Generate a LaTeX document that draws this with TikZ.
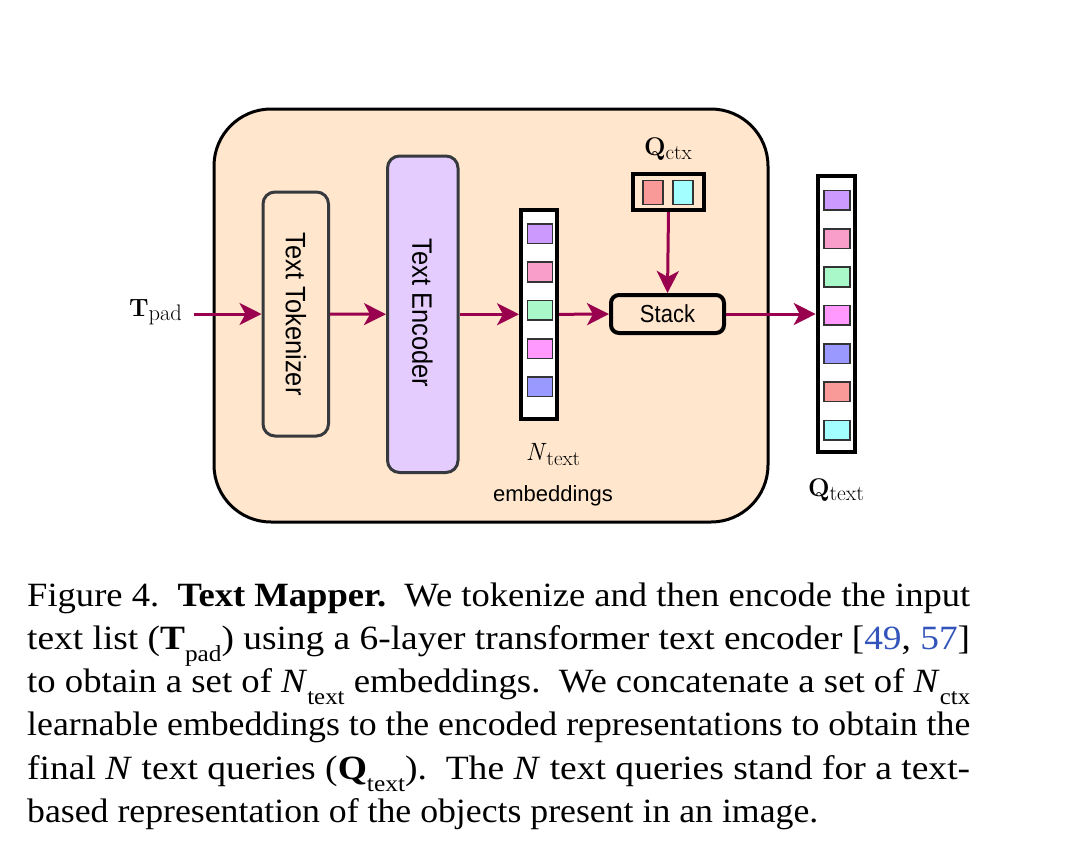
\RequirePackage{fix-cm}
\documentclass[tikz,border=0pt]{standalone}
\usepackage{fontspec}
\usepackage{graphicx}
\usetikzlibrary{arrows.meta}
\newfontfamily\capfont{Liberation Serif}
\newfontfamily\lsans{Liberation Sans}
\newfontfamily\lmr{Latin Modern Roman}
\definecolor{peach}{HTML}{FFE6CC}
\definecolor{lilac}{HTML}{E5CCFF}
\definecolor{darkstroke}{HTML}{36393D}
\definecolor{arrowc}{HTML}{99004D}
\definecolor{sqpurple}{HTML}{CC99FF}
\definecolor{sqpink}{HTML}{F99ECB}
\definecolor{sqgreen}{HTML}{A8F8CA}
\definecolor{sqmagenta}{HTML}{FF99FF}
\definecolor{sqblue}{HTML}{9999FF}
\definecolor{sqsalmon}{HTML}{F99A98}
\definecolor{sqcyan}{HTML}{A3FFFF}
\definecolor{refblue}{HTML}{3355BB}
\newcommand\capsub[1]{\raisebox{-0.36em}{\fontsize{23}{23}\selectfont #1}}
\newcommand\capline[2]{\resizebox{#1}{\height}{\capfont\fontsize{34}{34}\selectfont #2}}
% \mlabel{main size}{main text}{sub size}{sub text}{drop}
\newcommand\mlabel[5]{{\lmr\fontsize{#1}{#1}\selectfont #2}\raisebox{-#5}{\lmr\fontsize{#3}{#3}\selectfont #4}}
\tikzset{
  flow/.style={draw=arrowc, line width=3pt, -{Stealth[length=22pt,width=22pt,inset=6pt]}},
  framebox/.style={draw=black, fill=peach, line width=3pt, rounded corners=57pt, inner sep=0pt},
  procbox/.style={draw=darkstroke, line width=3pt, rounded corners=12pt, inner sep=0pt},
  colbox/.style={draw=black, fill=white, line width=4pt, inner sep=0pt},
  sq/.style={draw=black!80, line width=1.6pt, inner sep=0pt, minimum width=25pt, minimum height=19.5pt},
  mathlabel/.style={inner sep=0pt, anchor=base},
  sanslabel/.style={inner sep=0pt, font=\lsans\fontsize{22}{22}\selectfont},
  capnode/.style={anchor=base west, inner sep=0pt}
}
\begin{document}
\begin{tikzpicture}[x=1pt,y=-1pt]
\useasboundingbox[fill=white] (0,0) rectangle (1080,855);

% frame
\node[framebox, minimum width=554pt, minimum height=413pt] (frame) at (491,315.5) {};

% tokenizer and encoder
\node[procbox, fill=peach, minimum width=65.5pt, minimum height=244pt] (tok) at (295.75,314) {};
\node[rotate=-90, inner sep=0pt, font=\lsans\fontsize{25.5}{25.5}\selectfont] (toklabel) at (296,314) {\scalebox{1}[1.1]{Text Tokenizer}};
\node[procbox, fill=lilac, minimum width=70.5pt, minimum height=316.5pt] (enc) at (422.75,314.25) {};
\node[rotate=-90, inner sep=0pt, font=\lsans\fontsize{25.5}{25.5}\selectfont] (enclabel) at (422.5,313) {\scalebox{1}[1.1]{Text Encoder}};

% N_text column
\node[colbox, minimum width=36pt, minimum height=208.7pt] (ncol) at (539,314.35) {};
\node[sq, fill=sqpurple] (n1) at (540,233.7) {};
\node[sq, fill=sqpink] (n2) at (540,272) {};
\node[sq, fill=sqgreen] (n3) at (540,310.3) {};
\node[sq, fill=sqmagenta] (n4) at (540,348.6) {};
\node[sq, fill=sqblue] (n5) at (540,386.9) {};
\node[mathlabel] (ntext) at (553,460) {\mlabel{25}{\textit{N}}{21}{text}{5pt}};
\node[sanslabel, anchor=base] (emb) at (553,501.5) {embeddings};

% Q_ctx
\node[colbox, fill=peach, minimum width=71pt, minimum height=36.5pt] (qctx) at (668.5,191.75) {};
\node[sq, fill=sqsalmon, minimum width=20pt, minimum height=24pt] (c1) at (653,192.5) {};
\node[sq, fill=sqcyan, minimum width=20pt, minimum height=24pt] (c2) at (683,192.5) {};
\node[mathlabel] (qctxlabel) at (668,155.5) {\mlabel{25.5}{\textbf{Q}}{21}{ctx}{4pt}};

% Stack
\node[draw=black, fill=peach, line width=4pt, rounded corners=8pt, minimum width=113pt, minimum height=38pt, inner sep=0pt] (stack) at (667.5,314) {};
\node[sanslabel] (stacklabel) at (667.5,314) {\scalebox{1}[1.12]{Stack}};

% Q_text column
\node[colbox, minimum width=37pt, minimum height=276pt] (qcol) at (836.2,314) {};
\node[sq, fill=sqpurple, minimum width=26pt] (q1) at (837,200.3) {};
\node[sq, fill=sqpink, minimum width=26pt] (q2) at (837,238.6) {};
\node[sq, fill=sqgreen, minimum width=26pt] (q3) at (837,277) {};
\node[sq, fill=sqmagenta, minimum width=26pt] (q4) at (837,315.3) {};
\node[sq, fill=sqblue, minimum width=26pt] (q5) at (837,353.6) {};
\node[sq, fill=sqsalmon, minimum width=26pt] (q6) at (837,391.9) {};
\node[sq, fill=sqcyan, minimum width=26pt] (q7) at (837,430.3) {};
\node[mathlabel] (qtextlabel) at (836,496.5) {\mlabel{25.5}{\textbf{Q}}{21.5}{text}{4pt}};

% T_pad
\node[mathlabel] (tpad) at (155.5,316) {\mlabel{25}{\textbf{T}}{22.5}{pad}{4pt}};
\coordinate (tstart) at (194,314);

% connectors
\draw[flow] (tstart) -- (tok.west);
\draw[flow] (tok.east) -- (enc.west);
\draw[flow] (enc.east) -- (enc.east -| ncol.west);
\draw[flow] (ncol.east) -- (stack.west);
\draw[flow] (qctx.south) -- (stack.north);
\draw[flow] (stack.east) -- (stack.east -| qcol.west);

% caption
\node[capnode] (cap1) at (27,606) {\capline{943pt}{Figure 4.\ \ \textbf{Text Mapper.}\ \ We tokenize and then encode the input}};
\node[capnode] (cap2) at (27,649.3) {\capline{943pt}{text list (\textbf{T}\capsub{pad}) using a 6-layer transformer text encoder [\textcolor{refblue}{49}, \textcolor{refblue}{57}]}};
\node[capnode] (cap3) at (27,692.6) {\capline{943pt}{to obtain a set of \textit{N}\capsub{text} embeddings.\ \ We concatenate a set of \textit{N}\capsub{ctx}}};
\node[capnode] (cap4) at (27,735.9) {\capline{943pt}{learnable embeddings to the encoded representations to obtain the}};
\node[capnode] (cap5) at (27,779.2) {\capline{943pt}{final \textit{N} text queries (\textbf{Q}\capsub{text}).\ \ The \textit{N} text queries stand for a text-}};
\node[capnode] (cap6) at (27,822.5) {\capline{791pt}{based representation of the objects present in an image.}};
\end{tikzpicture}
\end{document}
